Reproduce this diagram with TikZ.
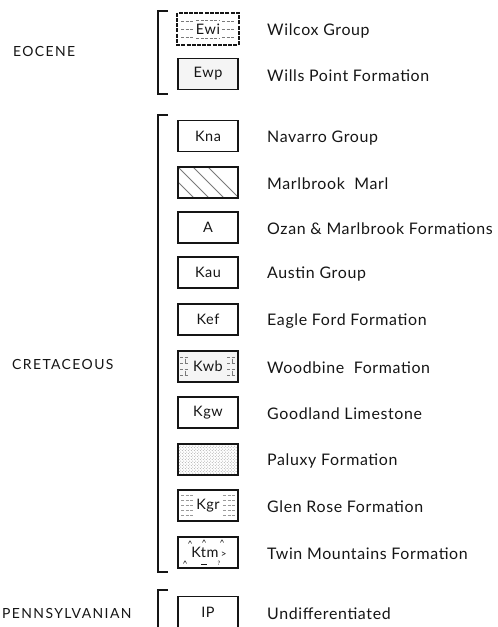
\documentclass[tikz,border=0pt]{standalone}
\usepackage{fontspec}
\setmainfont{Lato}
\newfontfamily\namefont[LetterSpace=4]{Lato}
\newfontfamily\capsfont[LetterSpace=10]{Lato}
\usetikzlibrary{patterns}
\definecolor{ink}{HTML}{151515}
\definecolor{hatch}{HTML}{7A7A7A}
\tikzset{
  unitbox/.style={draw=ink, line width=1.3pt, minimum width=60bp, minimum height=31bp,
    inner sep=0pt, text=ink, font=\fontsize{14.5}{17}\namefont},
  unitname/.style={anchor=west, text=ink, inner sep=0pt, font=\fontsize{16}{19}\namefont},
  epoch/.style={anchor=west, text=ink, inner sep=0pt, font=\fontsize{14}{16}\capsfont},
  bracket/.style={draw=ink, line width=1.3pt},
  shalelines/.style={draw=hatch, line width=0.6pt, dash pattern=on 3bp off 1.5bp},
}
\begin{document}
\begin{tikzpicture}[x=1bp,y=-1bp]
\useasboundingbox (0,0) rectangle (498,627);

% ---------- epoch labels ----------
\node[epoch] (eocene) at (13,52) {EOCENE};
\node[epoch] (cretaceous) at (12,365) {CRETACEOUS};
\node[epoch] (penn) at (2,613) {PENNSYLVANIAN};

% ---------- brackets ----------
\draw[bracket] (168,11) -- (158,11) -- (158,94) -- (168,94);
\draw[bracket] (168,115) -- (158,115) -- (158,572) -- (168,572);
\draw[bracket] (168,590) -- (158,590) -- (158,627);

% ---------- Eocene ----------
\node[unitbox, draw=none,
  path picture={
    \foreach \yy in {-8,0,8}{
      \draw[shalelines] ([xshift=3bp,yshift=\yy bp]path picture bounding box.west) -- ++(13,0);
      \draw[shalelines] ([xshift=-16bp,yshift=\yy bp]path picture bounding box.east) -- ++(13,0);
    }
    \draw[shalelines] ([xshift=18bp,yshift=-9bp]path picture bounding box.west) -- ++(24,0);
    \draw[shalelines] ([xshift=18bp,yshift=9bp]path picture bounding box.west) -- ++(24,0);
  }] (ewi) at (208,29) {Ewi};
\draw[ink, line width=2pt, dash pattern=on 4bp off 1.2bp] (ewi.north west) rectangle (ewi.south east);
\node[unitname] (ewiN) at (267,31) {Wilcox Group};

\node[unitbox, fill=black!4] (ewp) at (208,74) {Ewp};
\node[unitname] (ewpN) at (267,76) {Wills Point Formation};

% ---------- Cretaceous ----------
\node[unitbox] (kna) at (208,136) {Kna};
\node[unitname] (knaN) at (267,138) {Navarro Group};

\node[unitbox, path picture={
    \foreach \dx in {-30,-15,0,15,30}{
      \draw[hatch, line width=0.9pt]
        ([xshift=\dx bp]path picture bounding box.north west) -- ++(34,34);
    }
  }] (marl) at (208,182.5) {};
\node[unitname] (marlN) at (267,184) {Marlbrook\ \ Marl};

\node[unitbox] (ozan) at (208,227.5) {A};
\node[unitname] (ozanN) at (267,229) {Ozan \& Marlbrook Formations};

\node[unitbox] (kau) at (208,272.5) {Kau};
\node[unitname] (kauN) at (267,274) {Austin Group};

\node[unitbox] (kef) at (208,319.5) {Kef};
\node[unitname] (kefN) at (267,321) {Eagle Ford Formation};

\node[unitbox, fill=black!4, path picture={
    \foreach \yy in {-9,-3,3,9}{
      \draw[shalelines] ([xshift=2bp,yshift=\yy bp]path picture bounding box.west) -- ++(9,0);
      \draw[shalelines] ([xshift=-11bp,yshift=\yy bp]path picture bounding box.east) -- ++(9,0);
    }
    \foreach \yy in {-6,6}{
      \draw[hatch, line width=0.6pt] ([xshift=7bp,yshift=\yy bp]path picture bounding box.west) ++(0,-2) -- ++(0,4);
      \draw[hatch, line width=0.6pt] ([xshift=-6bp,yshift=\yy bp]path picture bounding box.east) ++(0,-2) -- ++(0,4);
    }
  }] (kwb) at (208,366.5) {Kwb};
\node[unitname] (kwbN) at (267,368) {Woodbine\ \ Formation};

\node[unitbox] (kgw) at (208,412.5) {Kgw};
\node[unitname] (kgwN) at (267,414) {Goodland Limestone};

\node[unitbox, pattern=crosshatch dots, pattern color=black!40] (pal) at (208,459.5) {};
\node[unitname] (palN) at (267,461) {Paluxy Formation};

\node[unitbox, path picture={
    \foreach \yy in {-10,-5,0,5,10}{
      \draw[shalelines, draw=black!40] ([xshift=3bp,yshift=\yy bp]path picture bounding box.west) -- ++(12,0);
      \draw[shalelines, draw=black!40] ([xshift=-15bp,yshift=\yy bp]path picture bounding box.east) -- ++(12,0);
    }
  }] (kgr) at (208,505.5) {Kgr};
\node[unitname] (kgrN) at (267,507) {Glen Rose Formation};

\node[unitbox] (ktm) at (208,552.5) {\hspace*{2bp}Ktm\,{\fontsize{10}{11}\selectfont >}};
\foreach \xx/\yy in {190/542, 204/541, 222/541, 185/562}{
  \draw[ink, line width=0.5pt] (\xx-1.6,\yy+1.4) -- (\xx,\yy-1.2) -- (\xx+1.6,\yy+1.4);
}
\draw[ink, line width=0.9pt] (201,564) -- (207,564);
\node[text=ink, inner sep=0pt, font=\fontsize{6}{7}\selectfont] (ktmq) at (219,563) {?};
\node[unitname] (ktmN) at (267,554) {Twin Mountains Formation};

% ---------- Pennsylvanian ----------
\node[unitbox] (ip) at (208,612) {IP};
\node[unitname] (ipN) at (267,614) {Undifferentiated};
\end{tikzpicture}
\end{document}
